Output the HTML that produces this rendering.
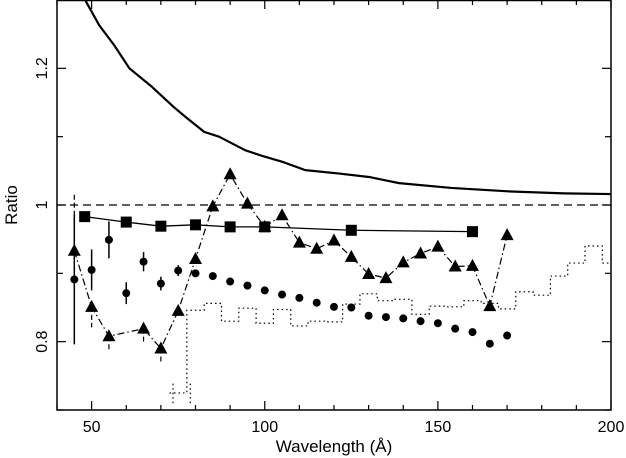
<!DOCTYPE html>
<html><head><meta charset="utf-8"><style>
html,body{margin:0;padding:0;background:#fff}
svg{display:block;font-family:"Liberation Sans",sans-serif}
</style></head><body>
<svg id="chart" width="626" height="458"></svg>
<script>
const squareX=[48,60,70,80,90,100,125,160];
const squareY=[0.983,0.975,0.969,0.971,0.968,0.968,0.963,0.961];
const triX=[45,50,55,65,70,75,80,85,90,95,100,105,110,115,120,125,130,135,140,145,150,155,160,165,170];
const triY=[0.933,0.851,0.808,0.819,0.790,0.845,0.921,0.998,1.045,1.002,0.968,0.985,0.945,0.936,0.948,0.924,0.899,0.893,0.916,0.929,0.939,0.910,0.911,0.852,0.956];
const triErrUp=[0.082,0,0,0,0,0,0,0,0,0,0,0,0,0,0,0,0,0,0,0,0,0,0,0,0];
const triErrDn=[0,0.03,0.02,0.02,0.02,0,0,0,0,0,0,0,0,0,0,0,0,0,0,0,0,0,0,0,0];
const dotX=[45,50,55,60,65,70,75,80,85,90,95,100,105,110,115,120,125,130,135,140,145,150,155,160,165,170];
const dotY=[0.891,0.905,0.949,0.871,0.917,0.885,0.904,0.900,0.896,0.888,0.882,0.875,0.869,0.864,0.857,0.851,0.850,0.838,0.836,0.834,0.830,0.827,0.819,0.814,0.797,0.809];
const dotErr=[0.095,0.03,0.027,0.016,0.014,0.01,0.008,0,0,0,0,0,0,0,0,0,0,0,0,0,0,0,0,0,0,0];
const stepX=[75,80,85,90,95,100,105,110,115,120,125,130,135,140,145,150,155,160,165,170,175,180,185,190,195,200];
const stepY=[0.725,0.846,0.856,0.83,0.849,0.827,0.847,0.823,0.83,0.829,0.855,0.87,0.86,0.862,0.84,0.852,0.851,0.86,0.856,0.848,0.873,0.868,0.896,0.915,0.94,0.915];
const curveX=[47.9,52.2,56.5,60.9,67.4,73.8,77.1,82.5,86.8,94.4,99.8,105.2,111.7,121.5,130.1,138.8,153.9,170.2,186.4,200];
const curveY=[1.302,1.263,1.234,1.2,1.173,1.143,1.129,1.107,1.100,1.080,1.071,1.063,1.051,1.046,1.041,1.032,1.025,1.020,1.017,1.016];
const xTicks=[50,100,150,200];
const yTicks=[0.8,1,1.2];

const L=57,R=611,T=0,B=410,XMIN=40,XMAX=200,YMIN=0.7,YMAX=1.3;
const sx=v=>L+(v-XMIN)/(XMAX-XMIN)*(R-L);
const sy=v=>B-(v-YMIN)/(YMAX-YMIN)*(B-T);
const svg=document.getElementById('chart');
const NS='http://www.w3.org/2000/svg';
function mk(tag,attrs,parent){const e=document.createElementNS(NS,tag);for(const k in attrs)e.setAttribute(k,attrs[k]);(parent||svg).appendChild(e);return e;}

const defs=mk('defs',{});const cp=mk('clipPath',{id:'cp'},defs);mk('rect',{x:L,y:T,width:R-L,height:B-T},cp);
const plot=mk('g',{'clip-path':'url(#cp)'});



const ref=mk('line',{x1:L,x2:R,y1:sy(1),y2:sy(1),stroke:'#000','stroke-width':1.3,'stroke-dasharray':'8,5'},plot);



const cv=mk('polyline',{points:curveX.map((x,i)=>sx(x)+','+sy(curveY[i])).join(' '),fill:'none',stroke:'#000','stroke-width':2.2,'stroke-linejoin':'round'},plot);



let sp=[];stepX.forEach((x,i)=>{sp.push(sx(x-2.5)+','+sy(stepY[i]));sp.push(sx(x+2.5)+','+sy(stepY[i]));});
const st=mk('polyline',{points:sp.join(' '),fill:'none',stroke:'#000','stroke-width':1.2,'stroke-dasharray':'1.5,3'},plot);


[73.5,78.5].forEach(x=>{const v=mk('line',{x1:sx(x),x2:sx(x),y1:sy(stepY[0]-0.015),y2:sy(stepY[0]+0.015),stroke:'#000','stroke-width':1.2,'stroke-dasharray':'1.5,3'},plot);
 
 });

const tl=mk('polyline',{points:triX.map((x,i)=>sx(x)+','+sy(triY[i])).join(' '),fill:'none',stroke:'#000','stroke-width':1.2,'stroke-dasharray':'7,3,1.5,3'},plot);


triX.forEach((x,i)=>{const cx=sx(x),cy=sy(triY[i]);
 if(triErrUp[i]>0||triErrDn[i]>0){const e=mk('line',{x1:cx,x2:cx,y1:sy(triY[i]+triErrUp[i]),y2:sy(triY[i]-triErrDn[i]),stroke:'#000','stroke-width':1.2,'stroke-dasharray':'5,3'},plot);
  
  }
 const t=mk('polygon',{points:`${cx},${cy-7} ${cx-6.5},${cy+5} ${cx+6.5},${cy+5}`,fill:'#000'},plot);
 
 });

const sl=mk('polyline',{points:squareX.map((x,i)=>sx(x)+','+sy(squareY[i])).join(' '),fill:'none',stroke:'#000','stroke-width':1.3},plot);


squareX.forEach((x,i)=>{const s=mk('rect',{x:sx(x)-5.5,y:sy(squareY[i])-5.5,width:11,height:11,fill:'#000'},plot);
 
 });

dotX.forEach((x,i)=>{const cx=sx(x),cy=sy(dotY[i]);
 if(dotErr[i]>0){const e=mk('line',{x1:cx,x2:cx,y1:sy(dotY[i]+dotErr[i]),y2:sy(dotY[i]-dotErr[i]),stroke:'#000','stroke-width':1.5},plot);
  
  }
 const c=mk('circle',{cx:cx,cy:cy,r:4,fill:'#000'},plot);
 
 });

const fr=mk('rect',{x:L,y:T+0.5,width:R-L,height:B-T-0.5,fill:'none',stroke:'#000','stroke-width':1.5});



for(let v=40;v<=200;v+=10){const maj=v%50===0;const x=sx(v),len=maj?9:5;
 mk('line',{x1:x,x2:x,y1:B,y2:B-len,stroke:'#000','stroke-width':1.2});
 mk('line',{x1:x,x2:x,y1:T,y2:T+len,stroke:'#000','stroke-width':1.2});}
xTicks.forEach(v=>{const t=mk('text',{x:sx(v),y:432,'font-size':16,'text-anchor':'middle'});t.textContent=v;
 
 });
for(let k=7;k<=13;k++){const v=k/10;const y=sy(v),len=(k%2===0)?9:6;
 mk('line',{x1:L,x2:L+len,y1:y,y2:y,stroke:'#000','stroke-width':1.2});
 mk('line',{x1:R,x2:R-len,y1:y,y2:y,stroke:'#000','stroke-width':1.2});}
yTicks.forEach(v=>{const y=sy(v);const t=mk('text',{x:0,y:0,'font-size':16,'text-anchor':'middle',transform:`translate(47,${y}) rotate(-90)`});t.textContent=String(v);
 
 });

const xt=mk('text',{x:(L+R)/2,y:452,'font-size':17,'text-anchor':'middle'});xt.textContent='Wavelength (Å)';


const yt=mk('text',{x:0,y:0,'font-size':17,'text-anchor':'middle',transform:`translate(17,${sy(1)}) rotate(-90)`});yt.textContent='Ratio';


</script>
</body></html>
